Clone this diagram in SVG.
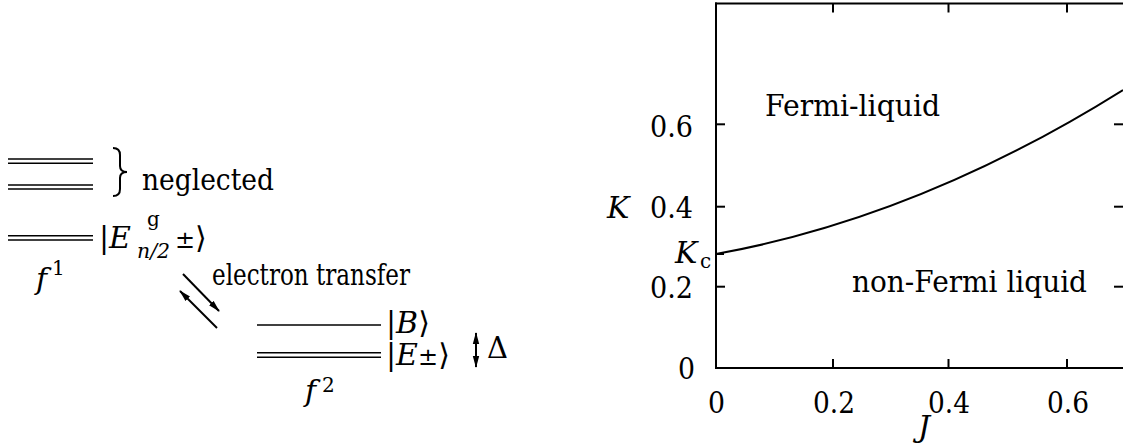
<svg xmlns="http://www.w3.org/2000/svg" width="1123" height="448" viewBox="0 0 1123 448" font-family="'DejaVu Serif', serif">
<style>
text{font-size:30px;fill:#000}
.i{font-style:italic}
.s{font-size:20px}
.pm{font-size:24px}
.lv{stroke:#000;stroke-width:1.6;fill:none}
.ax{stroke:#000;stroke-width:2;fill:none}
.ar{stroke:#000;stroke-width:2;fill:none}
</style>
<defs>
<marker id="ah" viewBox="0 0 12 8" refX="11" refY="4" markerWidth="12" markerHeight="8" markerUnits="userSpaceOnUse" orient="auto-start-reverse">
<path d="M0,0.8 L12,4 L0,7.2 z" fill="#000"/>
</marker>
</defs>
<rect width="1123" height="448" fill="#fff"/>

<g id="neglected-levels">
<line class="lv" x1="8" y1="159" x2="93" y2="159"/>
<line class="lv" x1="8" y1="163.3" x2="93" y2="163.3"/>
<line class="lv" x1="8" y1="185" x2="93" y2="185"/>
<line class="lv" x1="8" y1="189" x2="93" y2="189"/>
<path d="M113,148 Q120,148 120,155 L120,166 Q120,172 127,172 Q120,172 120,178 L120,189 Q120,196 113,196" class="ax"/>
<text x="142" y="190" textLength="132" lengthAdjust="spacingAndGlyphs">neglected</text>
</g>

<g id="f1-level">
<line class="lv" x1="8" y1="235.7" x2="93" y2="235.7"/>
<line class="lv" x1="8" y1="240" x2="93" y2="240"/>
<text x="99" y="248">|<tspan class="i">E</tspan></text>
<text class="s" x="147" y="226">g</text>
<text class="s i" x="137" y="258" textLength="33" lengthAdjust="spacingAndGlyphs">n/2</text>
<text x="175" y="248"><tspan class="pm">±</tspan>⟩</text>
<text class="i" x="36" y="289">f</text>
<text class="s" x="52" y="275">1</text>
</g>

<g id="transfer-label">
<text x="212" y="285" textLength="198" lengthAdjust="spacingAndGlyphs">electron transfer</text>
</g>

<g id="f2-levels">
<line class="lv" x1="257" y1="325" x2="381" y2="325"/>
<line class="lv" x1="257" y1="352.7" x2="381" y2="352.7"/>
<line class="lv" x1="257" y1="357.3" x2="381" y2="357.3"/>
<text x="386" y="333">|<tspan class="i">B</tspan>⟩</text>
<text x="386" y="365">|<tspan class="i">E</tspan><tspan class="pm">±</tspan>⟩</text>
<text class="i" x="305" y="401">f</text>
<text class="s" x="322" y="392">2</text>
<text x="487" y="358" textLength="21" lengthAdjust="spacingAndGlyphs">Δ</text>
</g>

<g id="connectors">
<line class="ar" x1="183" y1="274" x2="219" y2="311" marker-end="url(#ah)"/>
<line class="ar" x1="217" y1="328" x2="180" y2="291" marker-end="url(#ah)"/>
<line class="ar" x1="476" y1="333" x2="476" y2="367" marker-start="url(#ah)" marker-end="url(#ah)"/>
</g>

<g id="phase-plot">
<line class="ax" x1="716" y1="2.5" x2="716" y2="369"/>
<line class="ax" x1="715" y1="3.5" x2="1123" y2="3.5"/>
<line class="ax" x1="715" y1="368" x2="1123" y2="368"/>
<g class="ax">
<line x1="716" y1="124.3" x2="725" y2="124.3"/>
<line x1="716" y1="206.7" x2="725" y2="206.7"/>
<line x1="716" y1="254" x2="724" y2="254"/>
<line x1="716" y1="286.7" x2="725" y2="286.7"/>
<line x1="1114" y1="124.3" x2="1123" y2="124.3"/>
<line x1="1114" y1="206.7" x2="1123" y2="206.7"/>
<line x1="1114" y1="286.7" x2="1123" y2="286.7"/>
<line x1="833" y1="3.5" x2="833" y2="12.5"/>
<line x1="948.5" y1="3.5" x2="948.5" y2="12.5"/>
<line x1="1067" y1="3.5" x2="1067" y2="12.5"/>
<line x1="833" y1="368" x2="833" y2="359"/>
<line x1="948.5" y1="368" x2="948.5" y2="359"/>
<line x1="1067" y1="368" x2="1067" y2="359"/>
</g>
<path class="ax" d="M716,254 Q919.5,217.4 1123,90"/>
<text x="650" y="136.7" textLength="43" lengthAdjust="spacingAndGlyphs">0.6</text>
<text x="650" y="218" textLength="43" lengthAdjust="spacingAndGlyphs">0.4</text>
<text x="650" y="298" textLength="43" lengthAdjust="spacingAndGlyphs">0.2</text>
<text x="678" y="379" textLength="17" lengthAdjust="spacingAndGlyphs">0</text>
<text class="i" x="607" y="218">K</text>
<text class="i" x="675" y="263">K</text>
<text class="s" x="700" y="268">c</text>
<text x="708" y="413" textLength="17" lengthAdjust="spacingAndGlyphs">0</text>
<text x="813" y="413" textLength="42" lengthAdjust="spacingAndGlyphs">0.2</text>
<text x="928" y="413" textLength="42" lengthAdjust="spacingAndGlyphs">0.4</text>
<text x="1047" y="413" textLength="42" lengthAdjust="spacingAndGlyphs">0.6</text>
<text class="i" x="918" y="437">J</text>
<text x="765" y="116" textLength="175" lengthAdjust="spacingAndGlyphs">Fermi-liquid</text>
<text x="852" y="292" textLength="235" lengthAdjust="spacingAndGlyphs">non-Fermi liquid</text>
</g>
</svg>
